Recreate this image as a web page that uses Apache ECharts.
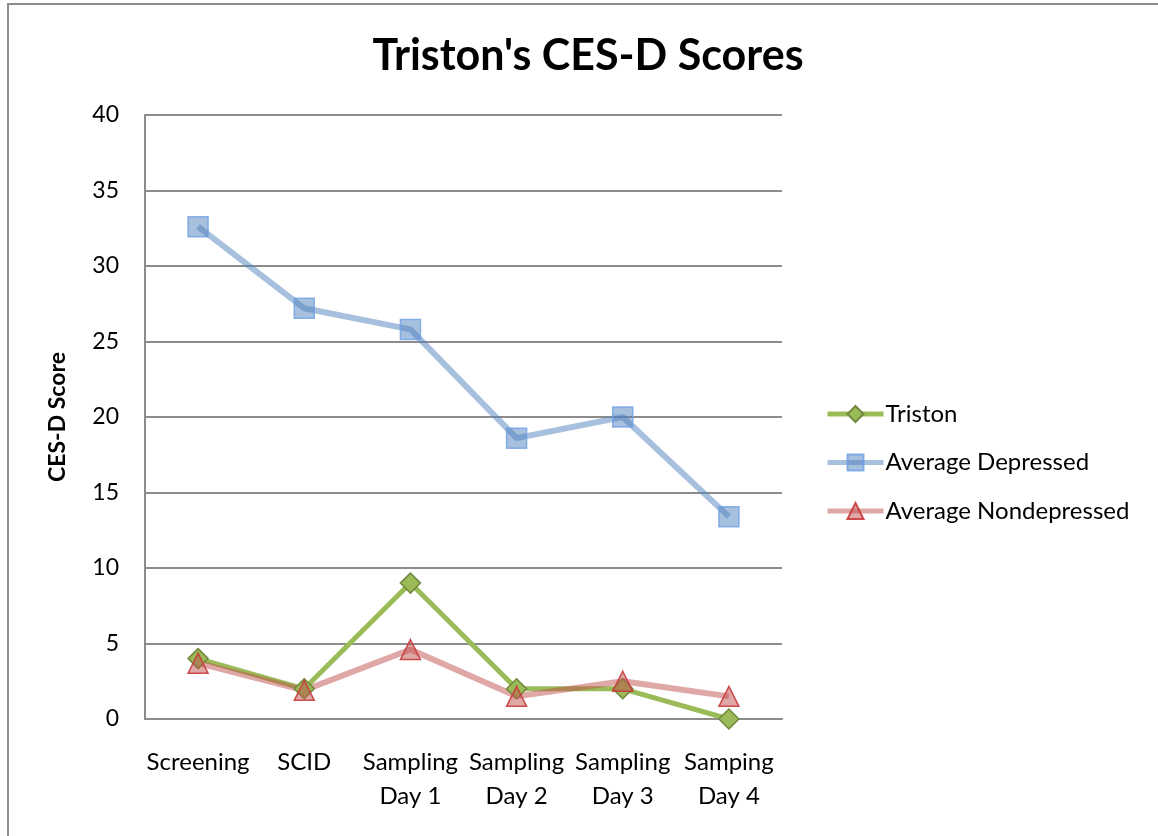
<!DOCTYPE html>
<html>
<head>
<meta charset="utf-8">
<script src="https://cdn.jsdelivr.net/npm/echarts@6/dist/echarts.min.js"></script>
<style>
html,body{margin:0;padding:0;background:#fff;}
#mybox{width:1158px;height:836px;position:relative;}
#frame{position:absolute;left:7px;top:3px;width:1160px;height:840px;border:2px solid #8c8c8c;box-sizing:border-box;pointer-events:none;}
</style>
</head>
<body>
<div id="mybox"></div>
<div id="frame"></div>
<script>
// 数据
var categories = ['Screening', 'SCID', 'Sampling\nDay 1', 'Sampling\nDay 2', 'Sampling\nDay 3', 'Samping\nDay 4'];
var triston = [4, 2, 9, 2, 2, 0];
var avgDepressed = [32.6, 27.2, 25.8, 18.6, 20.0, 13.4];
var avgNondepressed = [3.7, 1.9, 4.6, 1.5, 2.5, 1.5];
var yTicks = [0, 5, 10, 15, 20, 25, 30, 35, 40];

var font = 'Lato, "Open Sans", sans-serif';

//初始化echarts对象
var mycharts = echarts.init(document.getElementById('mybox'));
var option = {
    animation: false,
    textStyle: {fontFamily: font},
    title: {
        text: "Triston's CES-D Scores",
        left: 583,
        textAlign: 'center',
        top: 30,
        textStyle: {fontSize: 43, fontWeight: 'bold', color: '#000', fontFamily: font}
    },
    grid: {left: 145, top: 115, right: 376, bottom: 117},
    legend: {
        orient: 'vertical',
        left: 820,
        top: 397,
        itemWidth: 56,
        itemHeight: 20,
        itemGap: 24.5,
        lineStyle: {width: 5},
        textStyle: {fontSize: 24, color: '#000', fontFamily: font, padding: [0, 0, 0, -3]},
        data: ['Triston', 'Average Depressed', 'Average Nondepressed']
    },
    xAxis: {
        type: 'category',
        data: categories,
        boundaryGap: true,
        axisLine: {lineStyle: {color: '#8c8c8c', width: 2}},
        axisTick: {show: false},
        axisLabel: {fontSize: 24, color: '#000', margin: 26, lineHeight: 34, interval: 0, fontFamily: font}
    },
    yAxis: {
        type: 'value',
        min: yTicks[0],
        max: yTicks[yTicks.length - 1],
        interval: 5,
        name: 'CES-D Score',
        nameLocation: 'middle',
        nameGap: 76,
        nameTextStyle: {fontSize: 23, fontWeight: 'bold', color: '#000', fontFamily: font},
        axisLine: {show: true, lineStyle: {color: '#8c8c8c', width: 2}},
        axisTick: {show: false},
        axisLabel: {fontSize: 23, color: '#000', margin: 26, fontFamily: font},
        splitLine: {lineStyle: {color: '#8c8c8c', width: 2}}
    },
    series: [
        {
            name: 'Triston',
            type: 'line',
            data: triston,
            symbol: 'diamond',
            symbolSize: 20,
            lineStyle: {color: '#9bbb59', width: 5},
            itemStyle: {color: '#9bbb59', borderColor: '#71893f', borderWidth: 1.5}
        },
        {
            name: 'Average Depressed',
            type: 'line',
            data: avgDepressed,
            symbol: 'rect',
            symbolSize: 20,
            lineStyle: {color: 'rgba(79,129,189,0.5)', width: 6},
            itemStyle: {color: 'rgba(79,129,189,0.5)', borderColor: 'rgba(110,160,230,0.8)', borderWidth: 1.5}
        },
        {
            name: 'Average Nondepressed',
            type: 'line',
            data: avgNondepressed,
            symbol: 'triangle',
            symbolSize: 20,
            lineStyle: {color: 'rgba(192,80,77,0.5)', width: 6},
            itemStyle: {color: 'rgba(192,80,77,0.5)', borderColor: 'rgba(200,60,60,0.9)', borderWidth: 1.5}
        }
    ]
};
mycharts.setOption(option);
</script>
</body>
</html>
